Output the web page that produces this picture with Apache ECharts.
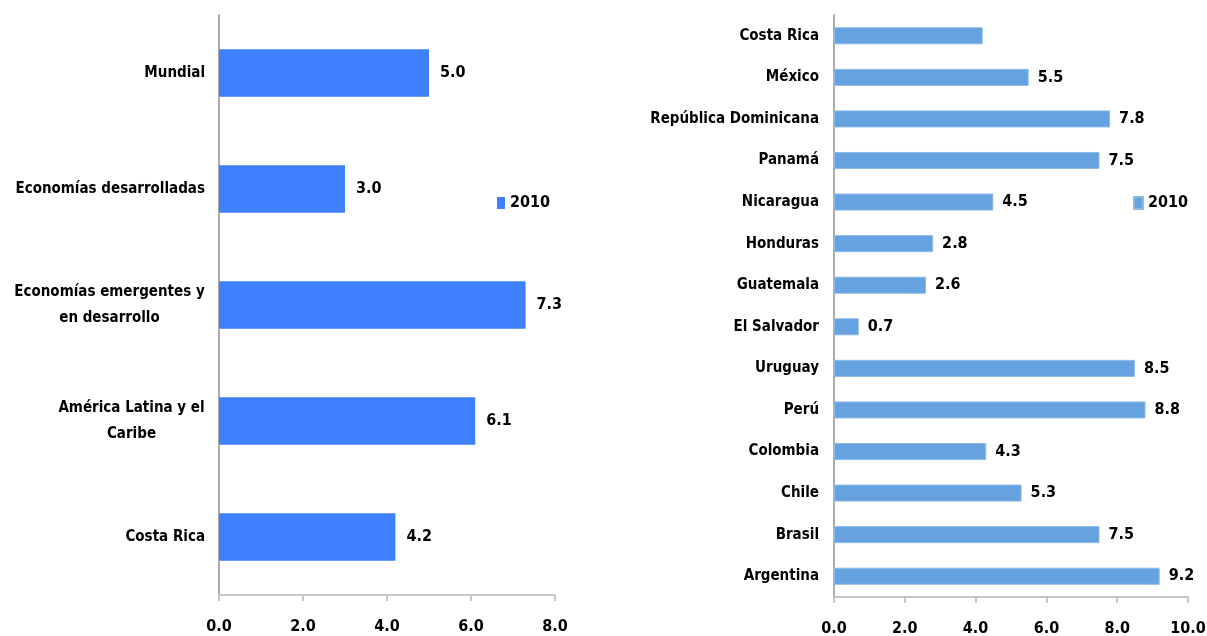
<!DOCTYPE html>
<html>
<head>
<meta charset="utf-8">
<script src="https://cdn.jsdelivr.net/npm/echarts@6/dist/echarts.min.js"></script>
<style>
  html, body { margin: 0; padding: 0; background: #fff; }
  #chart { width: 1207px; height: 636px; }
</style>
</head>
<body>
<div id="chart"></div>
<script>
// crecimiento del PIB 2010 (%)
const leftCats = ['Mundial', 'Economías desarrolladas', 'Economías emergentes y\nen desarrollo', 'América Latina y el\nCaribe', 'Costa Rica'];
const leftVals = [5.0, 3.0, 7.3, 6.1, 4.2];

const rightCats = ['Costa Rica', 'México', 'República Dominicana', 'Panamá', 'Nicaragua', 'Honduras', 'Guatemala',
  'El Salvador', 'Uruguay', 'Perú', 'Colombia', 'Chile', 'Brasil', 'Argentina'];
const rightVals = [4.2, 5.5, 7.8, 7.5, 4.5, 2.8, 2.6, 0.7, 8.5, 8.8, 4.3, 5.3, 7.5, 9.2];
const rightNoLabel = ['Costa Rica']; // en el original no lleva etiqueta

const legendText = '2010';

const FONT = "'DejaVu Sans Condensed', 'Liberation Sans', sans-serif";
const FSIZE = 15;
const leftColor = '#3f80ff';
const rightColor = '#66a2df';

// medir la linea mas ancha para centrar etiquetas de dos lineas
const ctx = document.createElement('canvas').getContext('2d');
ctx.font = 'bold ' + FSIZE + 'px ' + FONT;
function catFormatter(v) {
  if (v.indexOf('\n') < 0) return v;
  const lines = v.split('\n');
  const w = Math.max(...lines.map(l => ctx.measureText(l).width));
  return lines.map(l => '{c' + Math.ceil(w) + '|' + l + '}').join('\n');
}
function richFor(cats) {
  const rich = {};
  cats.forEach(v => {
    if (v.indexOf('\n') < 0) return;
    const w = Math.ceil(Math.max(...v.split('\n').map(l => ctx.measureText(l).width)));
    rich['c' + w] = { width: w, align: 'center', fontFamily: FONT, fontWeight: 'bold', fontSize: FSIZE, color: '#000', lineHeight: 26 };
  });
  return rich;
}

const txt = { fontFamily: FONT, fontWeight: 'bold', fontSize: FSIZE, color: '#000' };
const num = { fontFamily: FONT, fontWeight: 'bold', fontSize: 16, color: '#000' };

const chart = echarts.init(document.getElementById('chart'), null, { renderer: 'canvas' });

const option = {
  animation: false,
  textStyle: { fontFamily: FONT },
  legend: [
    {
      data: ['mundo'],
      formatter: () => legendText,
      left: 492, top: 190,
      icon: 'rect',
      itemWidth: 8, itemHeight: 12,
      textStyle: num
    },
    {
      data: ['paises'],
      formatter: () => legendText,
      left: 1128, top: 190,
      icon: 'rect',
      itemWidth: 9, itemHeight: 12,
      textStyle: num
    }
  ],
  grid: [
    { left: 219, width: 336, top: 15, bottom: 41, containLabel: false, outerBoundsMode: 'none' },
    { left: 834, width: 354, top: 15, bottom: 39, containLabel: false, outerBoundsMode: 'none' }
  ],
  xAxis: [0, 1].map(i => ({
    type: 'value',
    gridIndex: i,
    min: 0,
    max: i === 0 ? 8 : 10,
    interval: 2,
    splitLine: { show: false },
    axisLine: { show: true, lineStyle: { color: '#c6c6c6', width: 2 } },
    axisTick: { show: true, length: 6, lineStyle: { color: '#c6c6c6', width: 2 } },
    axisLabel: Object.assign({ margin: 24, formatter: v => v.toFixed(1) }, num)
  })),
  yAxis: [
    {
      type: 'category',
      gridIndex: 0,
      inverse: true,
      data: leftCats,
      axisLine: { lineStyle: { color: '#acacac', width: 2 } },
      axisTick: { length: 4, lineStyle: { color: '#c6c6c6', width: 1 } },
      axisLabel: Object.assign({ margin: 14, lineHeight: 26, formatter: catFormatter, rich: richFor(leftCats) }, txt)
    },
    {
      type: 'category',
      gridIndex: 1,
      inverse: true,
      data: rightCats,
      axisLine: { lineStyle: { color: '#acacac', width: 2 } },
      axisTick: { length: 4, lineStyle: { color: '#c6c6c6', width: 1 } },
      axisLabel: Object.assign({ margin: 15 }, txt)
    }
  ],
  series: [
    {
      name: 'mundo',
      type: 'bar',
      xAxisIndex: 0,
      yAxisIndex: 0,
      data: leftVals,
      barCategoryGap: '59%',
      itemStyle: { color: leftColor },
      label: Object.assign({ show: true, position: 'right', distance: 11, formatter: p => p.value.toFixed(1) }, num)
    },
    {
      name: 'paises',
      type: 'bar',
      xAxisIndex: 1,
      yAxisIndex: 1,
      data: rightVals.map((v, i) => rightNoLabel.includes(rightCats[i]) ? { value: v, label: { show: false } } : v),
      barCategoryGap: '59%',
      itemStyle: { color: rightColor, borderColor: '#8dbbe8', borderWidth: 1 },
      label: Object.assign({ show: true, position: 'right', distance: 9, formatter: p => p.value.toFixed(1) }, num)
    }
  ]
};

chart.setOption(option);
</script>
</body>
</html>
